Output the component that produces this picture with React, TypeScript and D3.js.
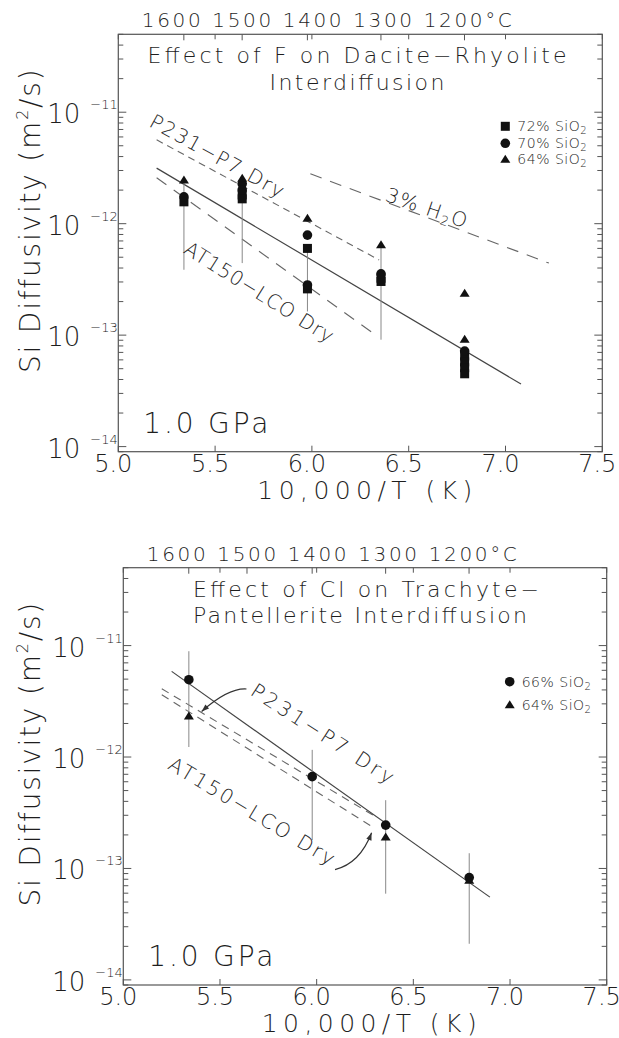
import * as d3 from 'd3';

type Pt = [number, number];
type Bar = [number, number, number];

// shared axes
const xTicks = [5.0, 5.5, 6.0, 6.5, 7.0, 7.5];
const celsiusTicks = [1600, 1500, 1400, 1300, 1200];
const decadeExps = [-14, -13, -12, -11];
const xDomain: [number, number] = [5.0, 7.5];
const yDomain: [number, number] = [9.0e-15, 5.0e-11];

// Effect of F on Dacite-Rhyolite
const fSquare72: Pt[] = [
  [5.339, 1.57e-12],
  [5.64, 1.81e-12], [5.64, 1.67e-12],
  [5.977, 6.0e-13], [5.977, 2.6e-13],
  [6.357, 3.24e-13], [6.357, 3.03e-13],
  [6.789, 6.5e-14], [6.789, 5.75e-14], [6.789, 5.1e-14], [6.789, 4.5e-14],
];
const fCircle70: Pt[] = [
  [5.339, 1.74e-12],
  [5.64, 2.28e-12], [5.64, 2.01e-12],
  [5.977, 7.9e-13], [5.977, 2.82e-13],
  [6.357, 3.55e-13],
  [6.789, 7.2e-14],
];
const fTriangle64: Pt[] = [
  [5.339, 2.47e-12],
  [5.64, 2.56e-12],
  [5.977, 1.12e-12],
  [6.357, 6.46e-13],
  [6.789, 2.38e-13], [6.789, 9.2e-14],
];
const fErrorBars: Bar[] = [
  [5.339, 2.47e-12, 3.86e-13],
  [5.64, 2.56e-12, 4.43e-13],
  [5.977, 6.0e-13, 1.63e-13],
  [6.357, 6.46e-13, 9.1e-14],
];
const fFitLine: Pt[] = [[5.198, 3.15e-12], [7.08, 3.64e-14]];
const fP231Line: Pt[] = [[5.198, 5.65e-12], [6.347, 4.73e-13]];
const fAT150Line: Pt[] = [[5.198, 2.58e-12], [6.317, 1.04e-13]];
const fWetLine: Pt[] = [[5.992, 2.8e-12], [7.224, 4.43e-13]];

// Effect of Cl on Trachyte-Pantellerite
const clCircle66: Pt[] = [[5.339, 4.94e-12], [5.977, 6.67e-13], [6.357, 2.45e-13], [6.789, 8.28e-14]];
const clTriangle64: Pt[] = [[5.339, 2.34e-12], [6.357, 1.92e-13], [6.789, 7.83e-14]];
const clErrorBars: Bar[] = [
  [5.339, 8.9e-12, 1.23e-12],
  [5.977, 1.16e-12, 1.8e-13],
  [6.357, 4.1e-13, 5.94e-14],
  [6.789, 1.37e-13, 2.11e-14],
];
const clFitLine: Pt[] = [[5.25, 5.87e-12], [6.896, 5.53e-14]];
const clP231Line: Pt[] = [[5.199, 4.1e-12], [6.317, 2.83e-13]];
const clAT150Line: Pt[] = [[5.199, 3.62e-12], [6.291, 2.35e-13]];
const clP231Arrow: Pt[] = [[5.637, 4.08e-12], [5.543, 4.18e-12], [5.405, 2.56e-12]];
const clAT150Arrow: Pt[] = [[6.095, 9.77e-14], [6.224, 1.11e-13], [6.284, 2.09e-13]];

const FONT = '"DejaVu Sans", sans-serif';
const INK = '#1e1e1e';
const AXIS = '#555';
const WEIGHT = 200;

type Label = { at: Pt; angle: number; text: string; len?: number; sub?: [string, string, string] };
type Legend = { shape: 'square' | 'circle' | 'triangle'; pct: string; dy: number };

type PanelProps = {
  box: { left: number; right: number; top: number; bottom: number };
  titleLines: string[];
  titleX: number;
  titleAnchor: 'middle' | 'start';
  titleLens: number[];
  squares: Pt[];
  circles: Pt[];
  triangles: Pt[];
  bars: Bar[];
  fit: Pt[];
  dashed: { pts: Pt[]; dash: string }[];
  labels: Label[];
  arrows: Pt[][];
  legend: Legend[];
};

function Marker({ shape, x, y }: { shape: string; x: number; y: number }) {
  if (shape === 'square') return <rect x={x - 4.5} y={y - 4.5} width={9} height={9} fill="#111" />;
  if (shape === 'circle') return <circle cx={x} cy={y} r={4.8} fill="#111" />;
  return <path d={`M${x},${y - 4.5}L${x + 5},${y + 3.5}L${x - 5},${y + 3.5}Z`} fill="#111" />;
}

function Panel(p: PanelProps) {
  const { left, right, top, bottom } = p.box;
  const x = d3.scaleLinear().domain(xDomain).range([left, right]);
  const y = d3.scaleLog().domain(yDomain).range([bottom, top]);
  const line = d3.line<Pt>().x((d) => x(d[0])).y((d) => y(d[1]));

  const logTicks: { v: number; major: boolean }[] = [];
  for (let e = -15; e <= -10; e++) {
    for (let m = 1; m <= 9; m++) {
      const v = m * Math.pow(10, e);
      if (v >= yDomain[0] && v <= yDomain[1]) logTicks.push({ v, major: m === 1 });
    }
  }
  const invT = (c: number) => 10000 / (c + 273.15);

  return (
    <g>
      <rect x={left} y={top} width={right - left} height={bottom - top} fill="none" stroke={AXIS} strokeWidth={1.2} />
      {logTicks.map((t, i) => (
        <g key={i} stroke={AXIS} strokeWidth={1}>
          <line x1={left} x2={left + (t.major ? 8 : 5)} y1={y(t.v)} y2={y(t.v)} />
          <line x1={right} x2={right - (t.major ? 8 : 5)} y1={y(t.v)} y2={y(t.v)} />
        </g>
      ))}
      {xTicks.map((t) => (
        <g key={t} stroke={AXIS} strokeWidth={1}>
          <line x1={x(t)} x2={x(t)} y1={bottom} y2={bottom - 6} />
          <line x1={x(t)} x2={x(t)} y1={top} y2={top + 5} />
        </g>
      ))}
      {celsiusTicks.map((c) => (
        <line key={c} x1={x(invT(c))} x2={x(invT(c))} y1={top} y2={top + 6} stroke={AXIS} strokeWidth={1} />
      ))}

      {/* tick labels */}
      <g fontFamily={FONT} fontWeight={WEIGHT} fill={INK}>
        {xTicks.map((t) => (
          <text key={t} x={x(t) - 5} y={bottom + 20} fontSize={24} textAnchor="middle">
            {t.toFixed(1)}
          </text>
        ))}
        {decadeExps.map((e) => (
          <g key={e}>
            <text x={left - 38} y={y(Math.pow(10, e)) + 11} fontSize={26} textAnchor="end">10</text>
            <text x={left - 28} y={y(Math.pow(10, e)) - 3} fontSize={13}>{`\u2212${-e}`}</text>
          </g>
        ))}
        <text x={left + 23.5} y={top - 7} fontSize={20} textLength={370} lengthAdjust="spacing">
          {celsiusTicks.join('  ') + '\u00b0C'}
        </text>
        <text x={right - 130} y={bottom + 47} fontSize={25} textAnchor="end" textLength={215} lengthAdjust="spacing">
          10,000/T (K)
        </text>
        <text transform={`translate(40,${top + 186}) rotate(-90)`} fontSize={28} textAnchor="middle" letterSpacing={1.8}>
          Si  Diffusivity  (m<tspan dy={-12} fontSize={16}>2</tspan><tspan dy={12}>/s)</tspan>
        </text>
        <text x={left + 25} y={bottom - 19} fontSize={28} textLength={125} lengthAdjust="spacing">1.0 GPa</text>
        {p.titleLines.map((t, i) => (
          <text key={i} x={p.titleX} y={top + 29 + i * 26.5} fontSize={22} textAnchor={p.titleAnchor}
            textLength={p.titleLens[i]} lengthAdjust="spacing">
            {t}
          </text>
        ))}
      </g>

      {/* reference lines */}
      {p.dashed.map((d, i) => (
        <path key={i} d={line(d.pts) ?? ''} fill="none" stroke="#666" strokeWidth={1.1} strokeDasharray={d.dash} />
      ))}
      <path d={line(p.fit) ?? ''} fill="none" stroke="#444" strokeWidth={1.2} />

      {/* error bars */}
      {p.bars.map((b, i) => (
        <line key={i} x1={x(b[0])} x2={x(b[0])} y1={y(b[1])} y2={y(b[2])} stroke="#888" strokeWidth={1} />
      ))}
      {p.squares.map((d, i) => <Marker key={'s' + i} shape="square" x={x(d[0])} y={y(d[1])} />)}
      {p.circles.map((d, i) => <Marker key={'c' + i} shape="circle" x={x(d[0])} y={y(d[1])} />)}
      {p.triangles.map((d, i) => <Marker key={'t' + i} shape="triangle" x={x(d[0])} y={y(d[1])} />)}

      {/* annotation labels */}
      <g fontFamily={FONT} fontWeight={WEIGHT} fill={INK} fontSize={20}>
        {p.labels.map((l, i) => (
          <text key={i} transform={`translate(${x(l.at[0])},${y(l.at[1])}) rotate(${l.angle})`}
            textLength={l.len} lengthAdjust={l.len ? 'spacing' : undefined} letterSpacing={l.sub ? 1.5 : undefined}>
            {l.sub ? (
              <>
                {l.sub[0]}<tspan dy={4} fontSize={13}>{l.sub[1]}</tspan><tspan dy={-4}>{l.sub[2]}</tspan>
              </>
            ) : l.text}
          </text>
        ))}
      </g>
      {p.arrows.map((a, i) => {
        const [s, c, t] = a.map((d) => [x(d[0]), y(d[1])]);
        const ang = Math.atan2(t[1] - c[1], t[0] - c[0]);
        const h1 = [t[0] - 8 * Math.cos(ang - 0.35), t[1] - 8 * Math.sin(ang - 0.35)];
        const h2 = [t[0] - 8 * Math.cos(ang + 0.35), t[1] - 8 * Math.sin(ang + 0.35)];
        return (
          <g key={i}>
            <path d={`M${s[0]},${s[1]}Q${c[0]},${c[1]} ${t[0]},${t[1]}`} fill="none" stroke="#333" strokeWidth={1.2} />
            <path d={`M${t[0]},${t[1]}L${h1[0]},${h1[1]}L${h2[0]},${h2[1]}Z`} fill="#333" />
          </g>
        );
      })}

      {/* legend */}
      <g fontFamily={FONT} fontWeight={WEIGHT} fill={INK} fontSize={14}>
        {p.legend.map((l) => (
          <g key={l.pct}>
            <Marker shape={l.shape} x={right - 97} y={top + l.dy} />
            <text x={right - 85} y={top + l.dy + 5} letterSpacing={0.5}>
              {l.pct}%  SiO<tspan dy={3} fontSize={10}>2</tspan>
            </text>
          </g>
        ))}
      </g>
    </g>
  );
}

export default function App() {
  return (
    <svg width={619} height={1038} style={{ position: 'absolute', left: 0, top: 0, background: '#fff' }}>
      <Panel
        box={{ left: 118.3, right: 602.3, top: 34.3, bottom: 451.7 }}
        titleLines={['Effect of F on Dacite\u2212Rhyolite', 'Interdiffusion']}
        titleX={357}
        titleAnchor="middle"
        titleLens={[419, 175]}
        squares={fSquare72}
        circles={fCircle70}
        triangles={fTriangle64}
        bars={fErrorBars}
        fit={fFitLine}
        dashed={[
          { pts: fP231Line, dash: '7,5' },
          { pts: fAT150Line, dash: '12,9' },
          { pts: fWetLine, dash: '12,9' },
        ]}
        labels={[
          { at: [5.154, 7.57e-12], angle: 29, text: 'P231\u2212P7  Dry', len: 150 },
          { at: [5.331, 5.52e-13], angle: 32, text: 'AT150\u2212LCO  Dry', len: 172 },
          { at: [6.374, 1.61e-12], angle: 19, text: '', sub: ['3%  H', '2', 'O'] },
        ]}
        arrows={[]}
        legend={[
          { shape: 'square', pct: '72', dy: 92 },
          { shape: 'circle', pct: '70', dy: 109 },
          { shape: 'triangle', pct: '64', dy: 125 },
        ]}
      />
      <Panel
        box={{ left: 123.3, right: 606.7, top: 567.7, bottom: 985 }}
        titleLines={['Effect of Cl on Trachyte\u2212', 'Pantellerite Interdiffusion']}
        titleX={193}
        titleAnchor="start"
        titleLens={[346, 334]}
        squares={[]}
        circles={clCircle66}
        triangles={clTriangle64}
        bars={clErrorBars}
        fit={clFitLine}
        dashed={[
          { pts: clP231Line, dash: '8,6' },
          { pts: clAT150Line, dash: '8,6' },
        ]}
        labels={[
          { at: [5.651, 3.65e-12], angle: 33, text: 'P231\u2212P7  Dry', len: 166 },
          { at: [5.225, 7.93e-13], angle: 31, text: 'AT150\u2212LCO  Dry', len: 190 },
        ]}
        arrows={[clP231Arrow, clAT150Arrow]}
        legend={[
          { shape: 'circle', pct: '66', dy: 114 },
          { shape: 'triangle', pct: '64', dy: 137 },
        ]}
      />
    </svg>
  );
}
